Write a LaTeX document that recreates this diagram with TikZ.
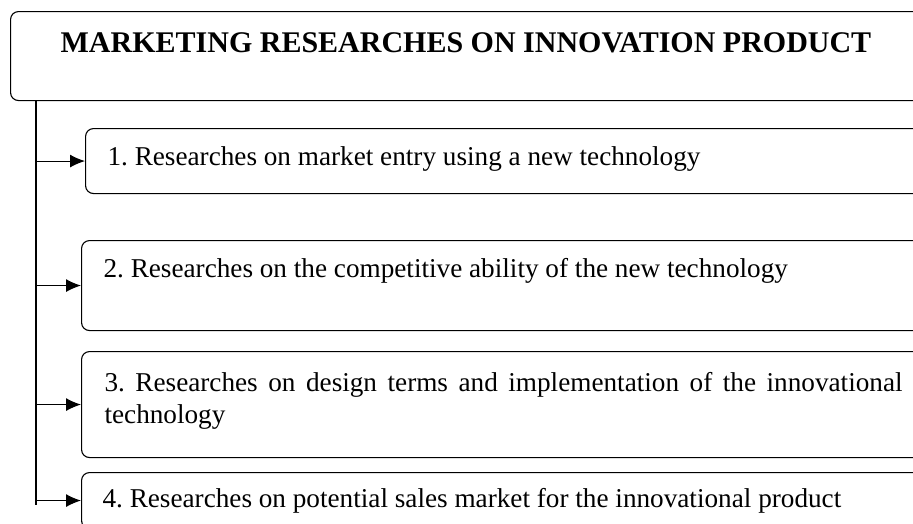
\documentclass[tikz,border=0pt]{standalone}
\usepackage{fontspec}
\setmainfont{Liberation Serif}
\usetikzlibrary{arrows.meta,positioning,calc}
\frenchspacing

\begin{document}
\begin{tikzpicture}[x=1pt,y=-1pt,line width=1.1pt]
\tikzset{
  resbox/.style={draw,rounded corners=8pt,minimum width=960pt,anchor=north west,inner sep=0pt},
  restext/.style={anchor=base west,inner sep=0pt,font=\fontsize{27.2}{32}\selectfont},
  feed/.style={-{Latex[length=15pt,width=13pt]}}
}
\useasboundingbox (0,0) rectangle (913,523);
\def\trunkx{36}
\node[resbox,minimum height=89pt] (title) at (10,11) {};
\node[anchor=base,inner sep=0pt,font=\fontsize{30}{34}\selectfont\bfseries] (head) at (466,52) {MARKETING RESEARCHES ON INNOVATION PRODUCT};
\node[resbox,minimum height=65pt] (box1) at (85,128) {};
\node[resbox,minimum height=90pt] (box2) at (81,240) {};
\node[resbox,minimum height=106pt] (box3) at (81,351) {};
\node[resbox,minimum height=56pt] (box4) at (81,472) {};
\node[restext] (txt1) at (107,165) {1. Researches on market entry using a new technology};
\node[restext] (txt2) at (103,277) {2. Researches on the competitive ability of the new technology};
\node[restext,anchor=north west,text width=798pt,align=justify,
  execute at begin node={\hyphenpenalty=10000\exhyphenpenalty=10000}] (txt3) at (104,371.5)
  {3. Researches on design terms and implementation of the innovational technology};
\node[restext] (txt4) at (102,507) {4. Researches on potential sales market for the innovational product};
\coordinate (top) at (\trunkx,100);
\coordinate (bot) at (\trunkx,505);
\draw (top) -- (bot);
\foreach \b in {1,...,4} {
  \draw[feed] (box\b.west -| top) -- (box\b.west);
}
\end{tikzpicture}
\end{document}
